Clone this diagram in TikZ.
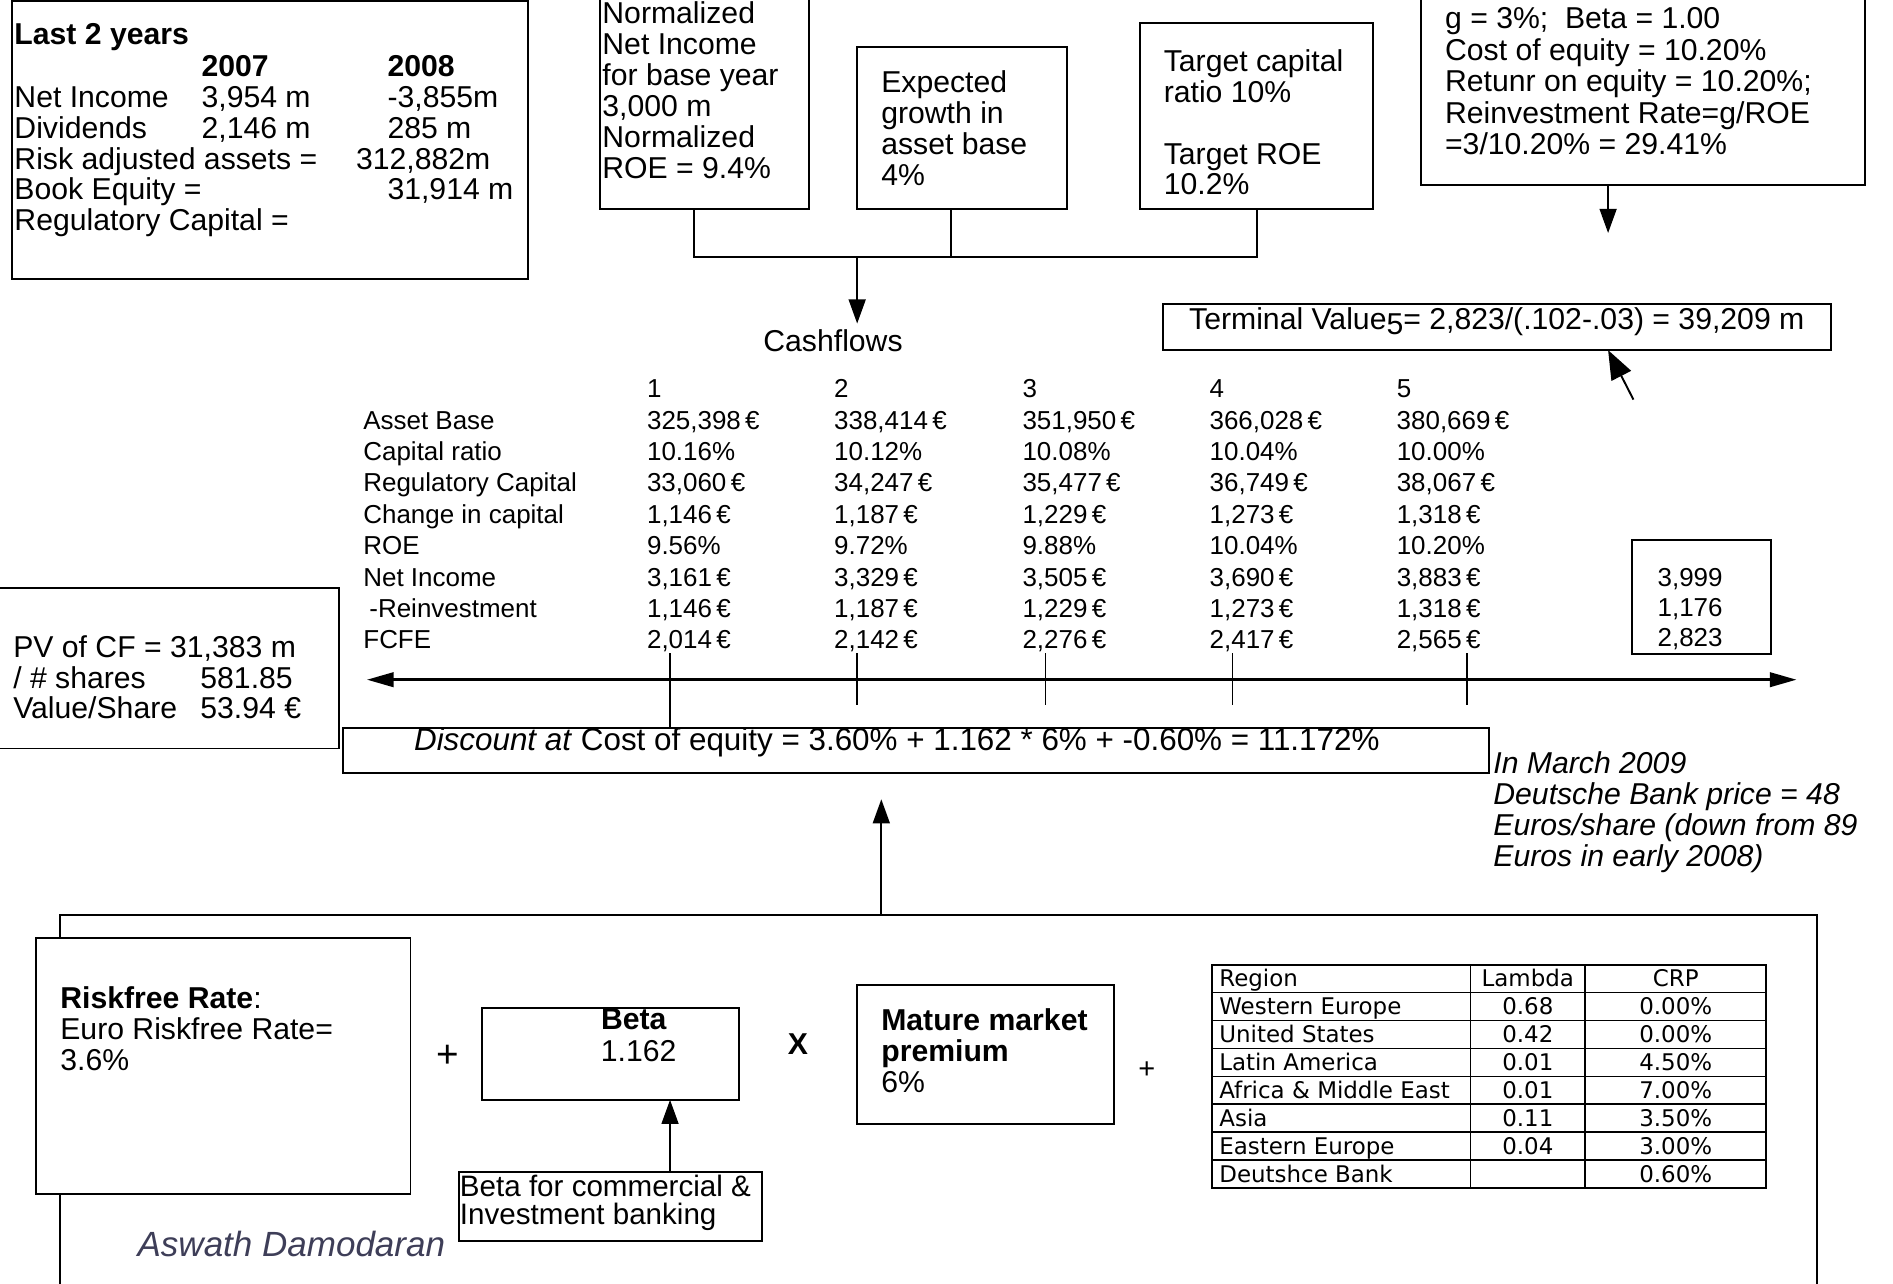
\documentclass[tikz,border=0pt]{standalone}
\usepackage{fontspec}
\setmainfont{Liberation Sans}
\newfontfamily\dvfont{DejaVu Sans}
\usepackage{array}
\usetikzlibrary{arrows.meta}
\newcommand\fsA{\fontsize{25}{26}\selectfont}
\newcommand\fsB{\fontsize{21.5}{26}\selectfont}
\newcommand\fsC{\dvfont\fontsize{19}{22}\selectfont}
\definecolor{authorc}{RGB}{62,62,88}
\newcommand\tlines[5]{\foreach \tx [count=\ti] in {#5}{\node[txt] (#1\ti) at (#2,{#3+(\ti-1)*#4}) {\tx};}}
\begin{document}
\begin{tikzpicture}[x=1pt,y=-1pt,
  box/.style={draw, fill=white, line width=1.6pt, inner sep=0pt, outer sep=0pt, anchor=north west},
  txt/.style={inner sep=0pt, outer sep=0pt, anchor=base west, font=\fsA},
  ctxt/.style={inner sep=0pt, outer sep=0pt, anchor=base, font=\fsA},
  conn/.style={line width=1.4pt},
  arr/.style={line width=1.6pt, -{Triangle[length=20pt,width=14pt]}},
  frame/.style={line width=1.8pt},
  crpt/.style={inner sep=0pt, outer sep=0pt, font=\fsC},
]
\useasboundingbox (0,0) rectangle (1568,1063);
\fill[white] (0,0) rectangle (1568,1063);

% ---------- top boxes ----------
\node[box, minimum width=427pt, minimum height=230pt] (last) at (10,1) {};
\node[txt, font=\fsA\bfseries] (lastT) at (12,37) {Last 2 years};
\node[txt, font=\fsA\bfseries] (y07) at (167,63) {2007};
\node[txt, font=\fsA\bfseries] (y08) at (321,63) {2008};
\tlines{lastL}{12}{89}{25.5}{Net Income, Dividends, Risk adjusted assets =, Book Equity =, Regulatory Capital =}
\node[txt] (ni07) at (167,89) {3,954 m};
\node[txt] (ni08) at (321,89) {-3,855m};
\node[txt] (dv07) at (167,114.5) {2,146 m};
\node[txt] (dv08) at (321,114.5) {285 m};
\node[txt] (rwa) at (295,140) {312,882m};
\node[txt] (beq) at (321,165.5) {31,914 m};

\node[box, minimum width=173pt, minimum height=183pt] (boxA) at (497,-10) {};
\tlines{boxAL}{499}{19.5}{25.7}{Normalized, Net Income, for base year, {3,000 m}, Normalized, ROE = 9.4\%}

\node[box, minimum width=174pt, minimum height=134pt] (boxB) at (710,39) {};
\tlines{boxBL}{730}{76.5}{25.8}{Expected, growth in, asset base, 4\%}

\node[box, minimum width=193pt, minimum height=154pt] (boxC) at (944,19) {};
\node[txt] (boxC1) at (964,59.5) {Target capital};
\node[txt] (boxC2) at (964,85) {ratio 10\%};
\node[txt] (boxC3) at (964,136) {Target ROE};
\node[txt] (boxC4) at (964,161.5) {10.2\%};

\node[box, minimum width=368pt, minimum height=163pt] (boxD) at (1177,-10) {};
\tlines{boxDL}{1197}{24}{26}{g = 3\%;\ \ Beta = 1.00, Cost of equity = 10.20\%, Retunr on equity = 10.20\%;, Reinvestment Rate=g/ROE, =3/10.20\% = 29.41\%}

% connectors from top boxes
\coordinate (jA) at (575,213);
\coordinate (jB) at (788,213);
\coordinate (jC) at (1041,213);
\coordinate (jM) at (710,213);
\draw[conn] (boxA.south -| jA) -- (jA) -- (jC) -- (boxC.south -| jC);
\draw[conn] (boxB.south -| jB) -- (jB);
\node[inner sep=0pt, font=\fsA] (cf) at (690,282) {Cashflows};
\draw[arr] (jM) -- (710,268);

\coordinate (dTip) at (1332,193);
\draw[arr] (boxD.south -| dTip) -- (dTip);

% terminal value
\node[box, minimum width=554pt, minimum height=38pt] (tv) at (963,252) {};
\node[txt] (tvT) at (985,273) {Terminal Value\raisebox{-4pt}{5}= 2,823/(.102-.03) = 39,209 m};
\coordinate (tvTail) at (1353,331);
\draw[line width=1.6pt, -{Triangle[length=24pt,width=18pt]}] (tvTail) -- (tv.south -| dTip);

% cashflow table
\node[anchor=base west, inner sep=0pt, outer sep=0pt, font=\fsB] (cft) at (301,329.5) {%
\begin{tabular}[t]{@{}p{235pt}@{}p{155pt}@{}p{156pt}@{}p{155pt}@{}p{155pt}@{}l@{}}
 & 1 & 2 & 3 & 4 & 5\\
Asset Base & 325,398\,€ & 338,414\,€ & 351,950\,€ & 366,028\,€ & 380,669\,€\\
Capital ratio & 10.16\% & 10.12\% & 10.08\% & 10.04\% & 10.00\%\\
Regulatory Capital & 33,060\,€ & 34,247\,€ & 35,477\,€ & 36,749\,€ & 38,067\,€\\
Change in capital & 1,146\,€ & 1,187\,€ & 1,229\,€ & 1,273\,€ & 1,318\,€\\
ROE & 9.56\% & 9.72\% & 9.88\% & 10.04\% & 10.20\%\\
Net Income & 3,161\,€ & 3,329\,€ & 3,505\,€ & 3,690\,€ & 3,883\,€\\
\hspace*{5pt}-Reinvestment & 1,146\,€ & 1,187\,€ & 1,229\,€ & 1,273\,€ & 1,318\,€\\
FCFE & 2,014\,€ & 2,142\,€ & 2,276\,€ & 2,417\,€ & 2,565\,€\\
\end{tabular}};

% terminal year box
\node[box, minimum width=115pt, minimum height=95pt] (tyb) at (1352,447) {};
\node[txt, font=\fsB] (ty1) at (1373,485.5) {3,999};
\node[txt, font=\fsB] (ty2) at (1373,510.5) {1,176};
\node[txt, font=\fsB] (ty3) at (1373,535.5) {2,823};

% PV box
\node[box, minimum width=291pt, minimum height=133pt] (pv) at (-10,487) {};
\node[txt] (pvL1) at (11,544.5) {PV of CF = 31,383 m};
\node[txt] (pvL2) at (11,570) {/ \# shares};
\node[txt] (pvL3) at (11,595.5) {Value/Share};
\node[txt] (pvV1) at (166,570) {581.85};
\node[txt] (pvV2) at (166,595.5) {53.94 €};

% discount box
\node[box, minimum width=949pt, minimum height=37pt] (disc) at (284,603) {};
\node[txt, font=\fontsize{26}{27}\selectfont] (discT) at (343,622) {\textit{Discount at} Cost of equity = 3.60\% + 1.162 * 6\% + -0.60\% = 11.172\%};

% timeline
\coordinate (tlL) at (304,563);
\coordinate (tlR) at (1488,563);
\draw[line width=2pt, {Triangle[length=22pt,width=12pt]}-{Triangle[length=22pt,width=12pt]}] (tlL) -- (tlR);
\coordinate (tk1) at (555,541);
\draw[conn] (tk1) -- (tk1 |- disc.north);
\foreach \x [count=\k] in {710,866,1021,1215} \draw[conn] (\x,541) -- (\x,584);

% March note
\tlines{mar}{1237}{641}{25.5}{\textit{In March 2009}, \textit{Deutsche Bank price = 48}, \textit{Euros/share (down from 89}, \textit{Euros in early 2008)}}

% ---------- bottom frame ----------
\coordinate (fBL) at (50,1080);
\coordinate (fTL) at (50,758);
\coordinate (fTR) at (1505,758);
\coordinate (fBR) at (1505,1080);
\draw[frame] (fBL) -- (fTL) -- (fTR) -- (fBR);
\coordinate (upB) at (730,758);
\draw[arr] (upB) -- (730,662);

% riskfree
\node[box, minimum width=310pt, minimum height=212pt] (rf) at (30,777) {};
\tlines{rfL}{50}{835}{25.8}{\textbf{Riskfree Rate}:, Euro Riskfree Rate=, 3.6\%}

\node[inner sep=0pt, font=\fontsize{32}{32}\selectfont] (plus1) at (371,875) {+};

% beta
\node[box, minimum width=213pt, minimum height=76pt] (beta) at (399,835) {};
\node[ctxt, font=\fsA\bfseries] (betaT) at (525,853) {Beta};
\node[ctxt] (betaV) at (529,879.5) {1.162};

\node[inner sep=0pt, font=\fontsize{25}{25}\selectfont\bfseries] (times) at (661,865) {X};

\node[box, minimum width=251pt, minimum height=57pt] (bcb) at (380,971) {};
\node[txt, font=\fontsize{24.5}{25}\selectfont] (bcb1) at (381,991) {Beta for commercial \&};
\node[txt, font=\fontsize{24.5}{25}\selectfont] (bcb2) at (381,1014.5) {Investment banking};
\draw[arr] (bcb.north -| 555,0) -- (beta.south -| 555,0);

% mature market premium
\node[box, minimum width=213pt, minimum height=115pt] (mmp) at (710,816) {};
\node[txt, font=\fsA\bfseries] (mmp1) at (730,853.5) {Mature market};
\node[txt, font=\fsA\bfseries] (mmp2) at (730,879.5) {premium};
\node[txt] (mmp3) at (730,905) {6\%};

\node[inner sep=0pt, font=\fontsize{24}{24}\selectfont] (plus2) at (950,886) {+};

% CRP table
\node[box, line width=1.8pt, minimum width=459pt, minimum height=185pt] (crp) at (1004,799) {};
\foreach \k in {1,...,7} \draw[line width=1.2pt] (1004,{799+23.125*\k}) -- (1463,{799+23.125*\k});
\draw[line width=1.2pt] (1218,799) -- (1218,984);
\draw[line width=1.2pt] (1313,799) -- (1313,984);
\foreach \rg/\lm/\cp [count=\i from 0] in {Region/Lambda/CRP, Western Europe/0.68/0.00\%, United States/0.42/0.00\%, Latin America/0.01/4.50\%, Africa \& Middle East/0.01/7.00\%, Asia/0.11/3.50\%, Eastern Europe/0.04/3.00\%, Deutshce Bank/{}/0.60\%}{
  \node[crpt, anchor=base west] (crpA\i) at (1010,{799+23.125*\i+18.2}) {\rg};
  \node[crpt, anchor=base] (crpB\i) at (1265.5,{799+23.125*\i+18.2}) {\lm};
  \node[crpt, anchor=base] (crpC\i) at (1388,{799+23.125*\i+18.2}) {\cp};
}

% author
\node[txt, font=\fontsize{29}{30}\selectfont\itshape, text=authorc] (author) at (114,1041) {Aswath Damodaran};
\end{tikzpicture}
\end{document}
